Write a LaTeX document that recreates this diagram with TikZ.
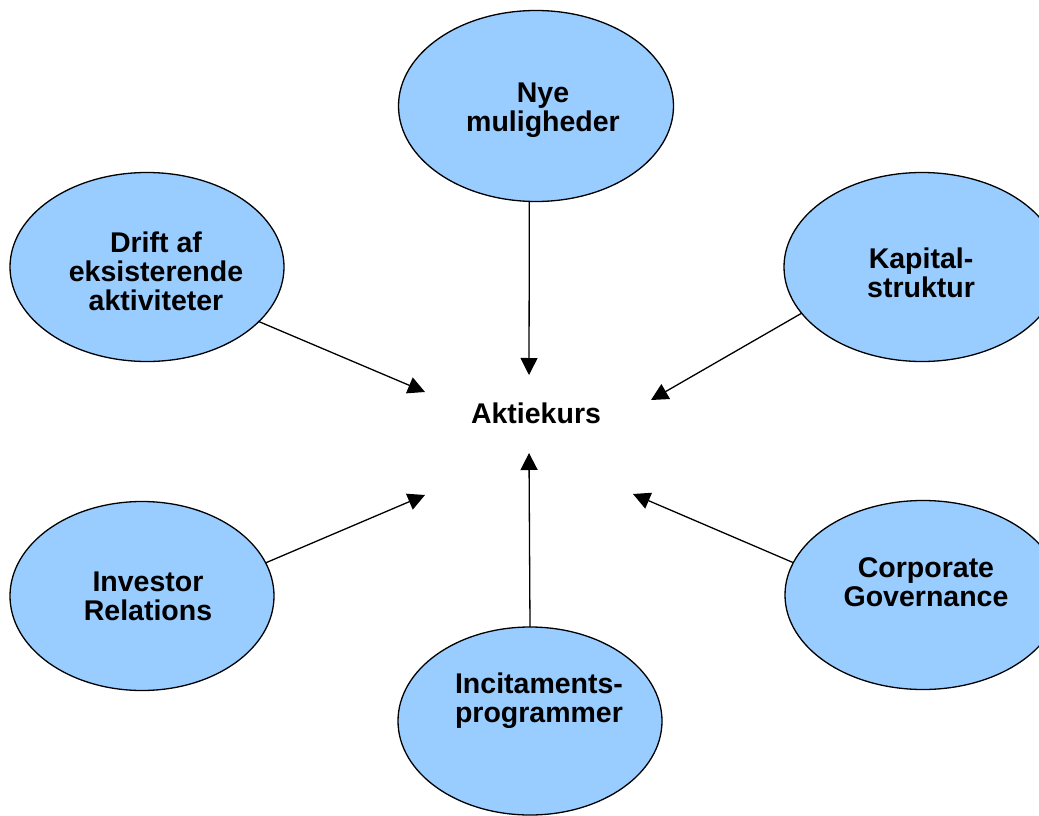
\documentclass[tikz,border=0pt]{standalone}
\usepackage{fontspec}
\setmainfont{Liberation Sans}
\usetikzlibrary{shapes.geometric,arrows.meta}
\definecolor{ellfill}{HTML}{99CCFF}
\tikzset{
  ell/.style={ellipse, draw=black, line width=1.3pt, fill=ellfill, inner sep=0pt, outer sep=0pt},
  lbl/.style={font=\fontsize{28.5}{29}\selectfont\bfseries, align=center, inner sep=0pt, anchor=north},
  conn/.style={line width=1.3pt, -{Triangle[length=17pt,width=17pt]}}
}
\begin{document}
\begin{tikzpicture}[x=1pt,y=-1pt]
\useasboundingbox (0,0) rectangle (1039,816);
\clip (0,0) rectangle (1039,816);
% ellipses
\node[ell, minimum width=275pt, minimum height=191pt] (nye) at (536,106) {};
\node[ell, minimum width=274pt, minimum height=189pt] (drift) at (147,267) {};
\node[ell, minimum width=276pt, minimum height=189pt] (kap) at (922,267) {};
\node[ell, minimum width=264pt, minimum height=189pt] (inv) at (142,596) {};
\node[ell, minimum width=276pt, minimum height=189pt] (corp) at (923,595) {};
\node[ell, minimum width=264pt, minimum height=188pt] (inc) at (530,721) {};
% texts
\node[lbl] (nyeT) at (543,83) {Nye\\muligheder};
\node[lbl] (driftT) at (156,232) {Drift af\\eksisterende\\aktiviteter};
\node[lbl] (kapT) at (921,248) {Kapital-\\struktur};
\node[lbl] (invT) at (148,572) {Investor\\Relations};
\node[lbl] (corpT) at (926,557) {Corporate\\Governance};
\node[lbl] (incT) at (539,673) {Incitaments-\\programmer};
\node[lbl] (akt) at (536,403) {Aktiekurs};
% arrow tips
\coordinate (tN) at (529,375);
\coordinate (tD) at (425,392);
\coordinate (tK) at (651,400);
\coordinate (tI) at (425,495);
\coordinate (tC) at (633,494);
\coordinate (tP) at (529,453);
% connectors
\draw[conn] (nye.266) -- (tN);
\draw[conn] (drift.334.4) -- (tD);
\draw[conn] (kap.201.8) -- (tK);
\draw[conn] (inv.15.6) -- (tI);
\draw[conn] (corp.166.2) -- (tC);
\draw[conn] (inc.90) -- (tP);
\end{tikzpicture}
\end{document}
